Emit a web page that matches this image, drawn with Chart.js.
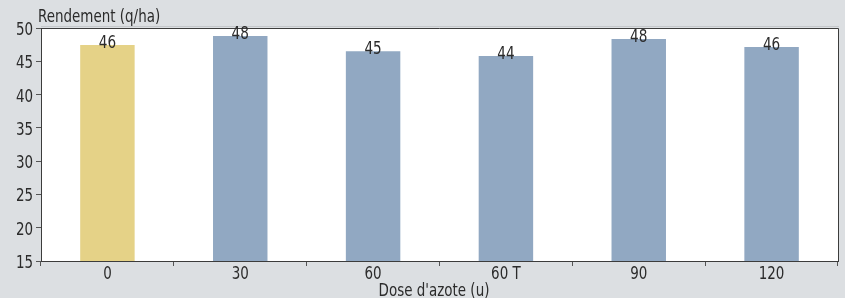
<!DOCTYPE html>
<html>
<head>
<meta charset="utf-8">
<script src="https://cdn.jsdelivr.net/npm/chart.js@4"></script>
<style>
  html, body { margin: 0; padding: 0; background: #dcdfe2; }
  #wrap { width: 845px; height: 298px; position: relative; }
</style>
</head>
<body>
<div id="wrap"><canvas id="chart" width="845" height="298"></canvas></div>
<script>
// --- Données ---
const doses = ['0', '30', '60', '60 T', '90', '120'];
const rendements = [47.45, 48.8, 46.5, 45.8, 48.35, 47.15];
const etiquettes = ['46', '48', '45', '44', '48', '46'];
const yTicks = [15, 20, 25, 30, 35, 40, 45, 50];

const FONT = '"DejaVu Sans Condensed", "DejaVu Sans", sans-serif';
const TEXT = '#2b2b2b';
const barColors = doses.map((d, i) => i === 0 ? '#e5d287' : '#91a8c2');

// texte étroit (police condensée compressée horizontalement)
function drawText(ctx, txt, x, y, size, align, sx) {
    ctx.save();
    ctx.font = size + 'px ' + FONT;
    ctx.textAlign = align;
    ctx.textBaseline = 'alphabetic';
    ctx.fillStyle = TEXT;
    ctx.translate(x, y);
    ctx.scale(sx, 1);
    ctx.fillText(txt, 0, 0);
    ctx.restore();
}

const decor = {
    id: 'decor',
    beforeDraw(chart) {
        const { ctx, chartArea: a } = chart;
        ctx.save();
        ctx.fillStyle = '#ffffff';
        ctx.fillRect(a.left, a.top, a.right - a.left, a.bottom - a.top);
        ctx.restore();
    },
    afterDraw(chart) {
        const { ctx, chartArea: a, scales } = chart;
        ctx.save();
        ctx.lineWidth = 1;
        ctx.strokeStyle = '#c4c7ca';
        ctx.beginPath();
        ctx.moveTo(a.left, a.top - 1.5);
        ctx.lineTo(a.right + 1, a.top - 1.5);
        ctx.stroke();
        ctx.strokeStyle = '#3c3c3c';
        ctx.beginPath();
        ctx.moveTo(a.left, a.top + 0.5);
        ctx.lineTo(a.right + 0.5, a.top + 0.5);
        ctx.lineTo(a.right + 0.5, a.bottom);
        ctx.stroke();
        ctx.restore();

        // titres
        drawText(ctx, 'Rendement (q/ha)', 38, 22, 17, 'left', 0.88);
        drawText(ctx, "Dose d'azote (u)", 434, 296, 17, 'center', 0.88);

        // graduations
        yTicks.forEach(v => {
            drawText(ctx, String(v), 33, scales.y.getPixelForValue(v) + 7, 17, 'right', 0.88);
        });
        doses.forEach((d, i) => {
            drawText(ctx, d, scales.x.getPixelForValue(i), 279, 17, 'center', 0.88);
        });

        // étiquettes de valeurs
        const meta = chart.getDatasetMeta(0);
        meta.data.forEach((bar, i) => {
            drawText(ctx, etiquettes[i], bar.x, bar.y + 3, 18, 'center', 0.84);
        });
    }
};

new Chart(document.getElementById('chart'), {
    type: 'bar',
    data: {
        labels: doses,
        datasets: [{
            data: rendements,
            backgroundColor: barColors,
            borderWidth: 0,
            categoryPercentage: 1,
            barPercentage: 0.41
        }]
    },
    options: {
        responsive: false,
        animation: false,
        layout: { padding: { top: 28, right: 7, left: 0, bottom: 0 } },
        plugins: { legend: { display: false }, tooltip: { enabled: false } },
        scales: {
            x: {
                grid: { display: true, drawOnChartArea: false, drawTicks: true, tickLength: 5, color: '#555', offset: true },
                border: { color: '#3c3c3c', width: 1 },
                ticks: { color: 'rgba(0,0,0,0)', font: { family: FONT, size: 16 } },
                afterFit(scale) { scale.height = 37; }
            },
            y: {
                min: 15,
                max: 50,
                afterBuildTicks(scale) { scale.ticks = yTicks.map(v => ({ value: v })); },
                grid: { display: true, drawOnChartArea: false, drawTicks: true, tickLength: 5, color: '#555' },
                border: { color: '#3c3c3c', width: 1 },
                ticks: { color: 'rgba(0,0,0,0)', font: { family: FONT, size: 16 } },
                afterFit(scale) { scale.width = 41; }
            }
        }
    },
    plugins: [decor]
});
</script>
</body>
</html>
